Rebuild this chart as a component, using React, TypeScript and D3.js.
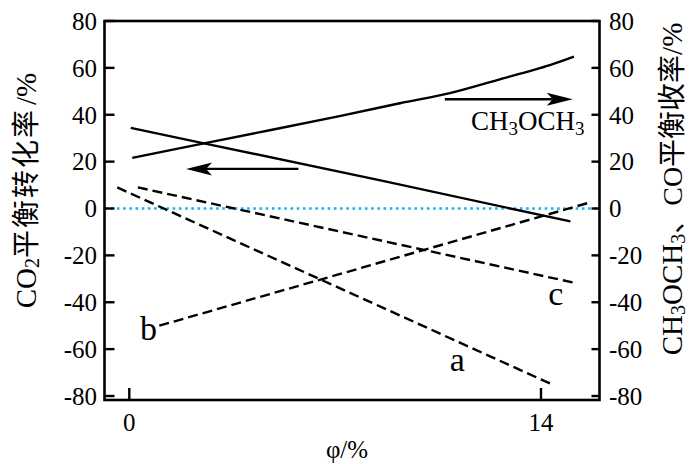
import React from "react";
import * as d3 from "d3";

// ---- data ----
const xTicks = [0, 14];
const yTicks = [-80, -60, -40, -20, 0, 20, 40, 60, 80];

// CO2 equilibrium conversion (solid, decreasing)
const co2Phi = [0.05, 2.54, 8.5, 15.0];
const co2Val = [34.4, 27.8, 12.1, -5.5];

// CH3OCH3 equilibrium yield (solid, increasing)
const dmePhi = [0.1, 2.54, 7.15, 9.2, 10.9, 12.6, 14.3, 15.12];
const dmeVal = [21.6, 27.8, 39.4, 44.9, 49.2, 55.1, 61.2, 64.8];

// dashed lines a, b, c
const aPhi = [-0.41, 14.42];
const aVal = [9.0, -75.3];
const bPhi = [1.02, 15.64];
const bVal = [-50.0, 2.5];
const cPhi = [0.29, 15.21];
const cVal = [9.0, -31.9];

// arrows: [fromPhi, toPhi, value]
const leftArrow = [5.75, 1.93, 16.9];
const rightArrow = [10.73, 15.08, 46.6];

// curve labels: [text, phi, value]
const curveLabels: [string, number, number][] = [
  ["a", 11.15, -69.5],
  ["b", 0.65, -56.0],
  ["c", 14.5, -41.0],
];

const W = 689;
const H = 464;
const box = { left: 104.5, right: 599.5, top: 21, bottom: 400 };

const SERIF = "'Liberation Serif', 'Times New Roman', serif";
const CJK = "'Liberation Serif', 'Noto Sans CJK SC', serif";

function zip(xs: number[], ys: number[]): [number, number][] {
  return xs.map((x, i) => [x, ys[i]]);
}

export default function App() {
  const x = d3.scaleLinear().domain([0, 14]).range([129.3, 541]);
  const y = d3.scaleLinear().domain([-80, 80]).range([396, 21]);

  const straight = d3
    .line<[number, number]>()
    .x((d) => x(d[0]))
    .y((d) => y(d[1]));
  const smooth = d3
    .line<[number, number]>()
    .x((d) => x(d[0]))
    .y((d) => y(d[1]))
    .curve(d3.curveCatmullRom.alpha(0.5));

  const arrow = (a: number[], key: string) => {
    const x0 = x(a[0]);
    const x1 = x(a[1]);
    const yy = y(a[2]);
    const dir = x1 > x0 ? 1 : -1;
    const L = 26;
    const hw = 6.5;
    const notch = 20;
    const head = `M${x1},${yy} L${x1 - dir * L},${yy - hw} L${x1 - dir * notch},${yy} L${x1 - dir * L},${yy + hw} Z`;
    return (
      <g key={key}>
        <line x1={x0} y1={yy} x2={x1 - dir * notch} y2={yy} stroke="#000" strokeWidth={2.4} />
        <path d={head} fill="#000" />
      </g>
    );
  };

  return (
    <svg
      width={W}
      height={H}
      style={{ position: "absolute", left: 0, top: 0, background: "#fff" }}
    >
      {/* zero reference line */}
      <line
        x1={box.left}
        x2={box.right}
        y1={y(0)}
        y2={y(0)}
        stroke="#1cb0ee"
        strokeWidth={2.6}
        strokeDasharray="2.6 3.6"
      />

      {/* dashed series */}
      {[zip(aPhi, aVal), zip(bPhi, bVal), zip(cPhi, cVal)].map((d, i) => (
        <path
          key={"dash" + i}
          d={straight(d) || ""}
          fill="none"
          stroke="#000"
          strokeWidth={2.4}
          strokeDasharray="10 5"
        />
      ))}

      {/* solid series */}
      <path d={straight(zip(co2Phi, co2Val)) || ""} fill="none" stroke="#000" strokeWidth={2.4} />
      <path d={smooth(zip(dmePhi, dmeVal)) || ""} fill="none" stroke="#000" strokeWidth={2.4} />

      {/* arrows */}
      {arrow(leftArrow, "la")}
      {arrow(rightArrow, "ra")}

      {/* CH3OCH3 annotation */}
      <text x={471} y={130} fontFamily={SERIF} fontSize={27} fill="#000">
        CH<tspan fontSize={19} dy={5}>3</tspan>
        <tspan dy={-5}>OCH</tspan>
        <tspan fontSize={19} dy={5}>3</tspan>
      </text>

      {/* curve labels */}
      {curveLabels.map(([t, px, v]) => (
        <text
          key={t}
          x={x(px)}
          y={y(v)}
          fontFamily={SERIF}
          fontSize={34}
          textAnchor="middle"
          fill="#000"
        >
          {t}
        </text>
      ))}

      {/* frame */}
      <rect
        x={box.left}
        y={box.top}
        width={box.right - box.left}
        height={box.bottom - box.top}
        fill="none"
        stroke="#000"
        strokeWidth={2.6}
      />

      {/* left ticks + labels */}
      {yTicks.map((t) => (
        <g key={"l" + t}>
          <line x1={box.left} x2={box.left + 10} y1={y(t)} y2={y(t)} stroke="#000" strokeWidth={2.4} />
          <text
            x={97}
            y={y(t)}
            dy="0.35em"
            textAnchor="end"
            fontFamily={SERIF}
            fontSize={25}
            fill="#000"
          >
            {t}
          </text>
        </g>
      ))}

      {/* right ticks + labels */}
      {yTicks.map((t) => (
        <g key={"r" + t}>
          <line x1={box.right - 8} x2={box.right} y1={y(t)} y2={y(t)} stroke="#000" strokeWidth={2.4} />
          <text
            x={609}
            y={y(t)}
            dy="0.35em"
            textAnchor="start"
            fontFamily={SERIF}
            fontSize={25}
            fill="#000"
          >
            {t}
          </text>
        </g>
      ))}

      {/* bottom ticks + labels */}
      {xTicks.map((t) => (
        <g key={"b" + t}>
          <line x1={x(t)} x2={x(t)} y1={box.bottom} y2={box.bottom - 12} stroke="#000" strokeWidth={2.4} />
          <text x={x(t)} y={431} textAnchor="middle" fontFamily={SERIF} fontSize={25} fill="#000">
            {t}
          </text>
        </g>
      ))}

      {/* axis titles */}
      <text x={347} y={458} textAnchor="middle" fontFamily={SERIF} fontSize={25} fill="#000">
        φ/%
      </text>

      <text
        transform="translate(26,190.5) rotate(-90)"
        textAnchor="middle"
        dominantBaseline="central"
        fontFamily={CJK}
        fontSize={29}
        fill="#000"
      >
        CO<tspan fontSize={20} dy={6}>2</tspan>
        <tspan dy={-6} fontSize={28} letterSpacing={2}>平衡转化率</tspan>
        <tspan fontSize={29} dx={3}>/%</tspan>
      </text>

      <text
        transform="translate(672,189) rotate(-90)"
        textAnchor="middle"
        dominantBaseline="central"
        fontFamily={CJK}
        fontSize={29}
        fill="#000"
      >
        CH<tspan fontSize={20} dy={6}>3</tspan>
        <tspan dy={-6}>OCH</tspan>
        <tspan fontSize={20} dy={6}>3</tspan>
        <tspan dy={-6} fontSize={28}>、CO平衡收率</tspan>
        <tspan fontSize={29}>/%</tspan>
      </text>
    </svg>
  );
}
